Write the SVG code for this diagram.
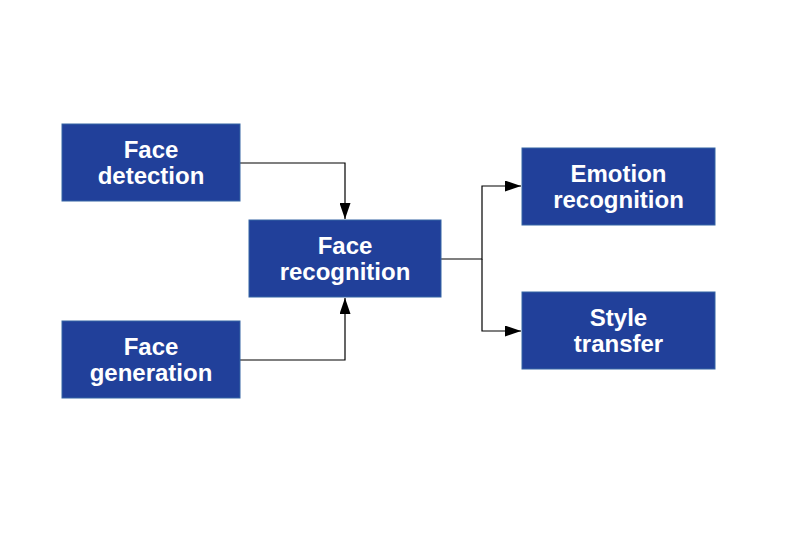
<svg xmlns="http://www.w3.org/2000/svg" width="794" height="546" viewBox="0 0 794 546">
<style>
.box{fill:#21409a;stroke:#3465a4;stroke-width:1}
.t{font-family:"Liberation Sans",Arial,sans-serif;font-weight:bold;font-size:24px;fill:#ffffff;text-anchor:middle}
.c{fill:none;stroke:#000000;stroke-width:1.2}
</style>
<defs>
<marker id="ah" viewBox="0 0 16 11" refX="16" refY="5.5" markerWidth="16" markerHeight="11" markerUnits="userSpaceOnUse" orient="auto">
<path d="M0,0 L16,5.5 L0,11 Z" fill="#000000"/>
</marker>
</defs>
<rect width="794" height="546" fill="#ffffff"/>
<g id="connectors">
<path class="c" d="M240,163 H345 V219" marker-end="url(#ah)"/>
<path class="c" d="M240,360 H345 V298" marker-end="url(#ah)"/>
<path class="c" d="M441,259 H482 V186 H521" marker-end="url(#ah)"/>
<path class="c" d="M482,259 V331 H521" marker-end="url(#ah)"/>
</g>
<g id="face-detection">
<rect class="box" x="62" y="124" width="178" height="77"/>
<text class="t" x="151" y="158">Face</text>
<text class="t" x="151" y="184">detection</text>
</g>
<g id="face-recognition">
<rect class="box" x="249" y="220" width="192" height="77"/>
<text class="t" x="345" y="254">Face</text>
<text class="t" x="345" y="280">recognition</text>
</g>
<g id="face-generation">
<rect class="box" x="62" y="321" width="178" height="77"/>
<text class="t" x="151" y="355">Face</text>
<text class="t" x="151" y="381">generation</text>
</g>
<g id="emotion-recognition">
<rect class="box" x="522" y="148" width="193" height="77"/>
<text class="t" x="618.5" y="182">Emotion</text>
<text class="t" x="618.5" y="208">recognition</text>
</g>
<g id="style-transfer">
<rect class="box" x="522" y="292" width="193" height="77"/>
<text class="t" x="618.5" y="326">Style</text>
<text class="t" x="618.5" y="352">transfer</text>
</g>
</svg>
